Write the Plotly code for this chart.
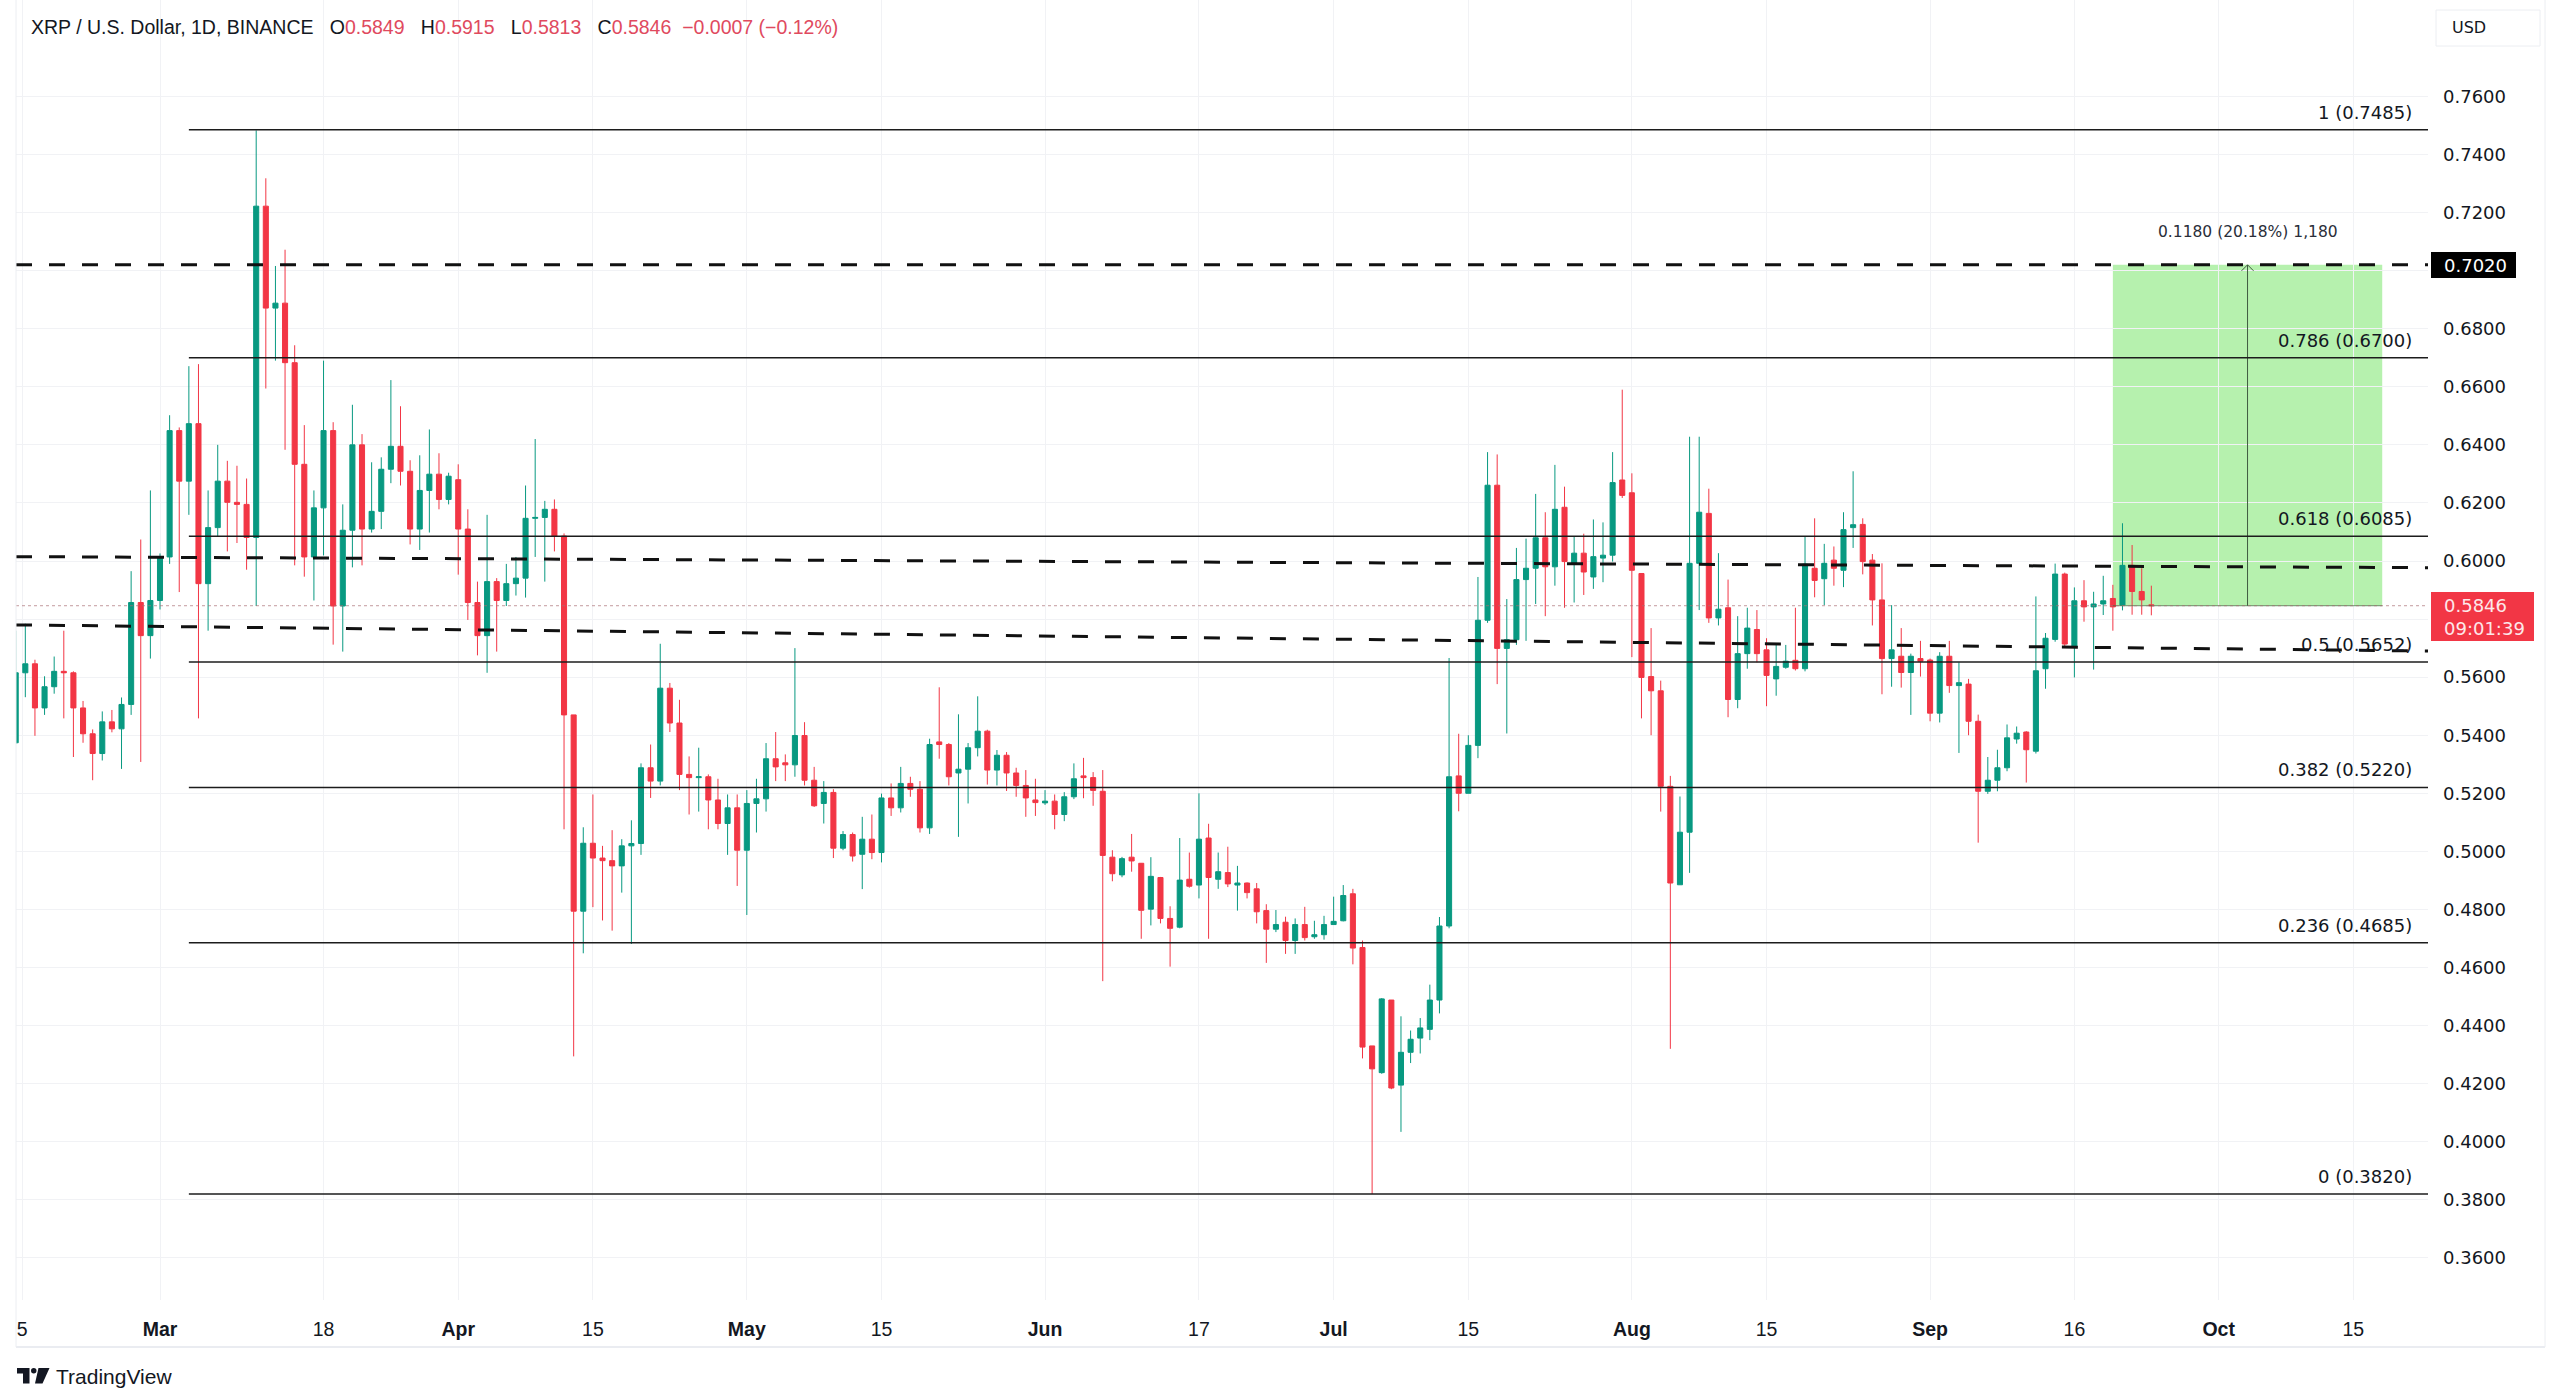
import pandas as pd
import plotly.graph_objects as go

# ---------------- data (daily candles, XRP/USD, from 2024-02-15) ----------------
start_date = "2024-02-15"
open_ = [0.5374, 0.5615, 0.5646, 0.5494, 0.5567, 0.5620, 0.5615, 0.5494, 0.5405, 0.5337,
         0.5446, 0.5422, 0.5506, 0.5857, 0.5743, 0.5864, 0.6014, 0.6449, 0.6275, 0.6473,
         0.5922, 0.6115, 0.6275, 0.6202, 0.6195, 0.6081, 0.7222, 0.6871, 0.6888, 0.6683,
         0.6333, 0.6014, 0.6183, 0.6449, 0.5845, 0.6106, 0.6400, 0.6110, 0.6171, 0.6316,
         0.6395, 0.6309, 0.6110, 0.6243, 0.6299, 0.6212, 0.6280, 0.6110, 0.5857, 0.5743,
         0.5929, 0.5864, 0.5922, 0.5941, 0.6147, 0.6150, 0.6178, 0.6086, 0.5470, 0.4794,
         0.5028, 0.4977, 0.4968, 0.4950, 0.5019, 0.5027, 0.5288, 0.5242, 0.5562, 0.5442,
         0.5265, 0.5254, 0.5257, 0.5177, 0.5096, 0.5150, 0.5004, 0.5165, 0.5181, 0.5319,
         0.5305, 0.5298, 0.5399, 0.5245, 0.5165, 0.5203, 0.5011, 0.5058, 0.4990, 0.5042,
         0.4996, 0.5184, 0.5150, 0.5234, 0.5214, 0.5081, 0.5377, 0.5368, 0.5270, 0.5283,
         0.5357, 0.5414, 0.5280, 0.5331, 0.5270, 0.5227, 0.5177, 0.5167, 0.5173, 0.5127,
         0.5188, 0.5260, 0.5254, 0.5207, 0.4980, 0.4919, 0.4980, 0.4959, 0.4801, 0.4910,
         0.4769, 0.4739, 0.4904, 0.4884, 0.5046, 0.4904, 0.4927, 0.4884, 0.4891, 0.4871,
         0.4796, 0.4732, 0.4756, 0.4693, 0.4748, 0.4706, 0.4713, 0.4748, 0.4761, 0.4854,
         0.4669, 0.4330, 0.4238, 0.4488, 0.4195, 0.4308, 0.4357, 0.4387, 0.4488, 0.4743,
         0.5260, 0.5200, 0.5365, 0.5796, 0.6261, 0.5699, 0.5729, 0.5936, 0.5975, 0.6080,
         0.5980, 0.6185, 0.5992, 0.6027, 0.5945, 0.6010, 0.6020, 0.6279, 0.6235, 0.5957,
         0.5602, 0.5553, 0.5224, 0.4885, 0.5066, 0.5992, 0.6164, 0.5804, 0.5839, 0.5523,
         0.5681, 0.5764, 0.5694, 0.5594, 0.5634, 0.5658, 0.5629, 0.5975, 0.5939, 0.6003,
         0.5968, 0.6115, 0.6126, 0.6003, 0.5866, 0.5664, 0.5672, 0.5616, 0.5664, 0.5659,
         0.5476, 0.5672, 0.5571, 0.5576, 0.5448, 0.5207, 0.5245, 0.5288, 0.5387, 0.5411,
         0.5345, 0.5629, 0.5730, 0.5955, 0.5703, 0.5863, 0.5842, 0.5852, 0.5871, 0.5848,
         0.5985, 0.5895, 0.5849]
high_ = [0.5760, 0.5784, 0.5660, 0.5603, 0.5671, 0.5760, 0.5620, 0.5518, 0.5420, 0.5482,
         0.5487, 0.5530, 0.5965, 0.6074, 0.6243, 0.6026, 0.6502, 0.6460, 0.6671, 0.6678,
         0.6243, 0.6400, 0.6345, 0.6328, 0.6284, 0.7483, 0.7318, 0.7016, 0.7072, 0.6743,
         0.6468, 0.6243, 0.6690, 0.6478, 0.6195, 0.6538, 0.6437, 0.6340, 0.6357, 0.6623,
         0.6533, 0.6347, 0.6364, 0.6453, 0.6371, 0.6304, 0.6333, 0.6178, 0.5929, 0.6159,
         0.5941, 0.5990, 0.6014, 0.6260, 0.6420, 0.6207, 0.6212, 0.6095, 0.5470, 0.5083,
         0.5196, 0.5019, 0.5073, 0.5042, 0.5107, 0.5303, 0.5368, 0.5715, 0.5580, 0.5522,
         0.5327, 0.5357, 0.5265, 0.5250, 0.5196, 0.5196, 0.5211, 0.5250, 0.5373, 0.5411,
         0.5334, 0.5700, 0.5445, 0.5291, 0.5242, 0.5214, 0.5070, 0.5065, 0.5119, 0.5127,
         0.5199, 0.5234, 0.5291, 0.5257, 0.5242, 0.5388, 0.5565, 0.5373, 0.5472, 0.5373,
         0.5534, 0.5419, 0.5349, 0.5342, 0.5288, 0.5280, 0.5250, 0.5211, 0.5196, 0.5204,
         0.5303, 0.5322, 0.5273, 0.5280, 0.5004, 0.4981, 0.5060, 0.4960, 0.4980, 0.4912,
         0.4811, 0.5046, 0.4996, 0.5200, 0.5095, 0.4996, 0.5016, 0.4950, 0.4893, 0.4891,
         0.4818, 0.4798, 0.4775, 0.4769, 0.4809, 0.4761, 0.4778, 0.4844, 0.4884, 0.4871,
         0.4693, 0.4330, 0.4495, 0.4488, 0.4432, 0.4383, 0.4426, 0.4541, 0.4774, 0.5666,
         0.5405, 0.5400, 0.5945, 0.6375, 0.6367, 0.5869, 0.6045, 0.6077, 0.6231, 0.6168,
         0.6331, 0.6256, 0.6085, 0.6094, 0.6143, 0.6133, 0.6375, 0.6590, 0.6302, 0.5957,
         0.5769, 0.5588, 0.5260, 0.5189, 0.6428, 0.6428, 0.6249, 0.6027, 0.5936, 0.5810,
         0.5839, 0.5831, 0.5734, 0.5711, 0.5711, 0.5839, 0.6085, 0.6147, 0.6059, 0.6050,
         0.6168, 0.6309, 0.6147, 0.6024, 0.5992, 0.5848, 0.5769, 0.5681, 0.5725, 0.5664,
         0.5686, 0.5725, 0.5651, 0.5594, 0.5471, 0.5325, 0.5350, 0.5437, 0.5430, 0.5414,
         0.5878, 0.5752, 0.5991, 0.5960, 0.5909, 0.5934, 0.5894, 0.5949, 0.5918, 0.6130,
         0.6055, 0.5975, 0.5915]
low_ = [0.5370, 0.5531, 0.5398, 0.5470, 0.5543, 0.5458, 0.5325, 0.5374, 0.5245, 0.5313,
        0.5410, 0.5284, 0.5470, 0.5308, 0.5664, 0.5833, 0.5990, 0.5893, 0.6159, 0.5458,
        0.5760, 0.6086, 0.6033, 0.6062, 0.5970, 0.5845, 0.6594, 0.6690, 0.6383, 0.5985,
        0.5946, 0.5864, 0.6019, 0.5712, 0.5688, 0.5978, 0.5985, 0.6098, 0.6110, 0.6268,
        0.6260, 0.6057, 0.6038, 0.6098, 0.6178, 0.6195, 0.5953, 0.5797, 0.5675, 0.5615,
        0.5688, 0.5845, 0.5881, 0.5874, 0.6014, 0.5929, 0.6033, 0.5076, 0.4294, 0.4649,
        0.4808, 0.4762, 0.4727, 0.4858, 0.4681, 0.4988, 0.5184, 0.5227, 0.5411, 0.5211,
        0.5127, 0.5137, 0.5076, 0.5076, 0.4988, 0.4881, 0.4781, 0.5065, 0.5137, 0.5242,
        0.5242, 0.5257, 0.5227, 0.5153, 0.5096, 0.4977, 0.5004, 0.4965, 0.4870, 0.4973,
        0.4962, 0.5122, 0.5134, 0.5188, 0.5065, 0.5060, 0.5319, 0.5227, 0.5050, 0.5165,
        0.5327, 0.5230, 0.5227, 0.5208, 0.5188, 0.5119, 0.5122, 0.5160, 0.5076, 0.5104,
        0.5180, 0.5183, 0.5157, 0.4553, 0.4897, 0.4911, 0.4930, 0.4699, 0.4745, 0.4752,
        0.4603, 0.4735, 0.4875, 0.4838, 0.4699, 0.4871, 0.4877, 0.4796, 0.4838, 0.4752,
        0.4616, 0.4722, 0.4647, 0.4647, 0.4693, 0.4699, 0.4696, 0.4748, 0.4759, 0.4611,
        0.4287, 0.3820, 0.4234, 0.4181, 0.4034, 0.4271, 0.4304, 0.4350, 0.4442, 0.4735,
        0.5138, 0.5200, 0.5321, 0.5787, 0.5576, 0.5406, 0.5711, 0.5725, 0.5852, 0.5810,
        0.5915, 0.5839, 0.5857, 0.5883, 0.5904, 0.5927, 0.5998, 0.6217, 0.5669, 0.5458,
        0.5400, 0.5137, 0.4320, 0.4885, 0.4926, 0.5831, 0.5787, 0.5778, 0.5462, 0.5493,
        0.5629, 0.5651, 0.5500, 0.5536, 0.5629, 0.5623, 0.5620, 0.5875, 0.5848, 0.5915,
        0.5910, 0.6045, 0.5954, 0.5778, 0.5541, 0.5567, 0.5564, 0.5470, 0.5602, 0.5448,
        0.5444, 0.5546, 0.5339, 0.5400, 0.5030, 0.5198, 0.5207, 0.5276, 0.5371, 0.5237,
        0.5337, 0.5560, 0.5722, 0.5706, 0.5599, 0.5791, 0.5626, 0.5814, 0.5760, 0.5830,
        0.5815, 0.5815, 0.5813]
close_ = [0.5615, 0.5646, 0.5494, 0.5567, 0.5620, 0.5615, 0.5494, 0.5405, 0.5337, 0.5446,
          0.5422, 0.5506, 0.5857, 0.5743, 0.5864, 0.6014, 0.6449, 0.6275, 0.6473, 0.5922,
          0.6115, 0.6275, 0.6202, 0.6195, 0.6081, 0.7222, 0.6871, 0.6888, 0.6683, 0.6333,
          0.6014, 0.6183, 0.6449, 0.5845, 0.6106, 0.6400, 0.6110, 0.6171, 0.6316, 0.6395,
          0.6309, 0.6110, 0.6243, 0.6299, 0.6212, 0.6292, 0.6110, 0.5857, 0.5743, 0.5929,
          0.5864, 0.5922, 0.5941, 0.6147, 0.6150, 0.6178, 0.6086, 0.5470, 0.4794, 0.5028,
          0.4977, 0.4968, 0.4950, 0.5019, 0.5027, 0.5288, 0.5242, 0.5562, 0.5442, 0.5265,
          0.5254, 0.5257, 0.5177, 0.5096, 0.5150, 0.5004, 0.5165, 0.5181, 0.5319, 0.5291,
          0.5298, 0.5399, 0.5245, 0.5157, 0.5203, 0.5011, 0.5058, 0.4984, 0.5042, 0.4996,
          0.5184, 0.5150, 0.5234, 0.5214, 0.5081, 0.5368, 0.5368, 0.5257, 0.5283, 0.5357,
          0.5414, 0.5280, 0.5331, 0.5270, 0.5227, 0.5184, 0.5168, 0.5173, 0.5127, 0.5188,
          0.5250, 0.5254, 0.5210, 0.4986, 0.4923, 0.4975, 0.4967, 0.4797, 0.4914, 0.4769,
          0.4735, 0.4901, 0.4880, 0.5042, 0.4910, 0.4930, 0.4888, 0.4891, 0.4858, 0.4792,
          0.4732, 0.4748, 0.4693, 0.4748, 0.4703, 0.4713, 0.4748, 0.4759, 0.4848, 0.4667,
          0.4326, 0.4251, 0.4492, 0.4185, 0.4308, 0.4353, 0.4392, 0.4488, 0.4743, 0.5257,
          0.5200, 0.5365, 0.5796, 0.6261, 0.5699, 0.5729, 0.5936, 0.5975, 0.6080, 0.5980,
          0.6178, 0.5998, 0.6027, 0.5962, 0.6015, 0.6020, 0.6270, 0.6226, 0.5968, 0.5599,
          0.5553, 0.5224, 0.4891, 0.5066, 0.5992, 0.6168, 0.5804, 0.5834, 0.5523, 0.5681,
          0.5769, 0.5681, 0.5606, 0.5637, 0.5655, 0.5629, 0.5989, 0.5933, 0.5992, 0.5975,
          0.6108, 0.6125, 0.5998, 0.5866, 0.5664, 0.5694, 0.5616, 0.5672, 0.5655, 0.5476,
          0.5672, 0.5571, 0.5581, 0.5448, 0.5207, 0.5245, 0.5288, 0.5391, 0.5407, 0.5350,
          0.5622, 0.5734, 0.5955, 0.5714, 0.5863, 0.5842, 0.5852, 0.5863, 0.5842, 0.5985,
          0.5895, 0.5866, 0.5846]

fib_ratios = ["1", "0.786", "0.618", "0.5", "0.382", "0.236", "0"]
fib_levels = [0.7485, 0.6700, 0.6085, 0.5652, 0.5220, 0.4685, 0.3820]
fib_start = "2024-03-04"

target_level = 0.7020
last_price = 0.5846
trend_upper = [0.6015, 0.5977]   # sloped dashed line: left value, right value
trend_lower = [0.5780, 0.5690]
box_start, box_days = "2024-09-20", 28.0
measure_text = "0.1180 (20.18%) 1,180"
countdown = "09:01:39"
change_text = "−0.0007 (−0.12%)"

ytick_vals = [round(0.36 + 0.02 * i, 2) for i in range(21)]
xtick_dates = ["2024-02-15 16:00", "2024-03-01", "2024-03-18", "2024-04-01", "2024-04-15", "2024-05-01",
               "2024-05-15", "2024-06-01", "2024-06-17", "2024-07-01", "2024-07-15", "2024-08-01",
               "2024-08-15", "2024-09-01", "2024-09-16", "2024-10-01", "2024-10-15"]
xtick_text = ["5", "<b>Mar</b>", "18", "<b>Apr</b>", "15", "<b>May</b>", "15", "<b>Jun</b>", "17",
              "<b>Jul</b>", "15", "<b>Aug</b>", "15", "<b>Sep</b>", "16", "<b>Oct</b>", "15"]

# ---------------- styling / geometry ----------------
W, H = 2560, 1399
PL, PR, PT, PB = 16, 2428, 0, 1300
GREEN, RED = "#089981", "#f23645"
TXT = "#131722"


def px(X):
    return (X - PL) / (PR - PL)


def py(Y):
    return (PB - Y) / (PB - PT)


dates = pd.date_range(start_date, periods=len(open_), freq="D")
base = pd.Timestamp("2024-03-01")
x_lo = base + pd.Timedelta(days=(PL - 160) / 9.62)
x_hi = base + pd.Timedelta(days=(PR - 160) / 9.62)
y_lo, y_hi = 0.3455, 0.7932

fig = go.Figure()
fig.add_trace(go.Candlestick(
    x=dates, open=open_, high=high_, low=low_, close=close_,
    increasing=dict(line=dict(color=GREEN, width=1), fillcolor=GREEN),
    decreasing=dict(line=dict(color=RED, width=1), fillcolor=RED),
    whiskerwidth=0, showlegend=False, hoverinfo="skip"))

shapes = []
annos = []

# green projection box
bx0 = pd.Timestamp(box_start)
bx1 = bx0 + pd.Timedelta(days=box_days)
bxm = bx0 + pd.Timedelta(days=box_days / 2)
shapes.append(dict(type="rect", xref="x", yref="y", x0=bx0, x1=bx1, y0=last_price, y1=target_level,
                   fillcolor="#b6f1ae", line=dict(width=0), layer="below"))
shapes.append(dict(type="line", xref="x", yref="y", x0=bx0, x1=bx1, y0=last_price, y1=last_price,
                   line=dict(color="rgba(70,110,70,0.75)", width=1)))
shapes.append(dict(type="line", xref="x", yref="y", x0=bxm, x1=bxm, y0=last_price, y1=target_level,
                   line=dict(color="#3f5a40", width=1)))

# current price dotted line
shapes.append(dict(type="line", xref="paper", yref="y", x0=0, x1=1, y0=last_price, y1=last_price,
                   line=dict(color="rgba(170,110,115,0.7)", width=1, dash="dot")))

# fibonacci levels
for r, lv in zip(fib_ratios, fib_levels):
    shapes.append(dict(type="line", xref="x", yref="y", x0=fib_start, x1=x_hi, y0=lv, y1=lv,
                       line=dict(color="#1c1c1c", width=1.5)))
    annos.append(dict(xref="paper", yref="y", x=px(2414), y=lv, xanchor="right", yanchor="bottom",
                      yshift=5, showarrow=False, text=f"{r} ({lv:.4f})",
                      font=dict(family="DejaVu Sans", size=18, color=TXT)))

# dashed lines
dash = "16px,17px"
shapes.append(dict(type="line", xref="paper", yref="y", x0=0, x1=1, y0=target_level, y1=target_level,
                   line=dict(color="#111111", width=3, dash=dash)))
shapes.append(dict(type="line", xref="paper", yref="y", x0=0, x1=1, y0=trend_upper[0], y1=trend_upper[1],
                   line=dict(color="#111111", width=3, dash=dash)))
shapes.append(dict(type="line", xref="paper", yref="y", x0=0, x1=1, y0=trend_lower[0], y1=trend_lower[1],
                   line=dict(color="#111111", width=3, dash=dash)))

# arrow head on measuring line
xm_px = 160 + 9.62 * ((bxm - base) / pd.Timedelta(days=1))
ah = 6 / 2904
shapes.append(dict(type="path", xref="paper", yref="y",
                   path=f"M {px(xm_px - 6)},{target_level - ah} L {px(xm_px)},{target_level} L {px(xm_px + 6)},{target_level - ah}",
                   line=dict(color="#3f5a40", width=1)))
annos.append(dict(xref="x", yref="y", x=bxm, y=0.7134, xanchor="center", yanchor="middle",
                  showarrow=False, text=measure_text,
                  font=dict(family="DejaVu Sans", size=15.5, color="#2a2e39")))

# price tags on axis
shapes.append(dict(type="rect", xref="paper", yref="paper", x0=px(2431), x1=px(2516),
                   y0=py(278), y1=py(252), fillcolor="#000000", line=dict(width=0)))
annos.append(dict(xref="paper", yref="paper", x=px(2442), y=py(265), xanchor="left", yanchor="middle",
                  showarrow=False, text=f"{target_level:.4f}",
                  font=dict(family="DejaVu Sans", size=18, color="#ffffff")))
shapes.append(dict(type="rect", xref="paper", yref="paper", x0=px(2431), x1=px(2534),
                   y0=py(641), y1=py(592), fillcolor="#f23645", line=dict(width=0)))
annos.append(dict(xref="paper", yref="paper", x=px(2442), y=py(605), xanchor="left", yanchor="middle",
                  showarrow=False, text=f"{last_price:.4f}",
                  font=dict(family="DejaVu Sans", size=18, color="#fde8ea")))
annos.append(dict(xref="paper", yref="paper", x=px(2442), y=py(628), xanchor="left", yanchor="middle",
                  showarrow=False, text=countdown,
                  font=dict(family="DejaVu Sans", size=18, color="#fde8ea")))

# USD label
shapes.append(dict(type="rect", xref="paper", yref="paper", x0=px(2436), x1=px(2540),
                   y0=py(46), y1=py(10), fillcolor="rgba(0,0,0,0)", line=dict(color="#eceef2", width=1)))
annos.append(dict(xref="paper", yref="paper", x=px(2469), y=py(28), xanchor="center", yanchor="middle",
                  showarrow=False, text="USD",
                  font=dict(family="DejaVu Sans", size=16, color=TXT)))

# title / legend line
rc = "#e04a5e"
title = ("XRP / U.S. Dollar, 1D, BINANCE&nbsp;&nbsp;&nbsp;"
         f"O<span style='color:{rc}'>{open_[-1]:.4f}</span>&nbsp;&nbsp;&nbsp;"
         f"H<span style='color:{rc}'>{high_[-1]:.4f}</span>&nbsp;&nbsp;&nbsp;"
         f"L<span style='color:{rc}'>{low_[-1]:.4f}</span>&nbsp;&nbsp;&nbsp;"
         f"C<span style='color:{rc}'>{close_[-1]:.4f}</span>&nbsp;&nbsp;"
         f"<span style='color:{rc}'>{change_text}</span>")
annos.append(dict(xref="paper", yref="paper", x=px(29), y=py(27), xanchor="left", yanchor="middle",
                  showarrow=False, text=title,
                  font=dict(family="Liberation Sans", size=19.5, color=TXT)))

# frame & separator
shapes.append(dict(type="line", xref="paper", yref="paper", x0=px(16), x1=px(2545), y0=py(1347), y1=py(1347),
                   line=dict(color="#e3e6ec", width=1.5)))
shapes.append(dict(type="line", xref="paper", yref="paper", x0=px(2545), x1=px(2545), y0=py(0), y1=py(1347),
                   line=dict(color="#eceef2", width=1)))
shapes.append(dict(type="line", xref="paper", yref="paper", x0=px(16), x1=px(16), y0=py(0), y1=py(1347),
                   line=dict(color="#eceef2", width=1)))

# TradingView logo + text
shapes.append(dict(type="path", xref="paper", yref="paper", fillcolor="#131722", line=dict(width=0),
                   path=(f"M {px(17)},{py(1368)} L {px(29.5)},{py(1368)} L {px(29.5)},{py(1383.5)} "
                         f"L {px(23)},{py(1383.5)} L {px(23)},{py(1373.5)} L {px(17)},{py(1373.5)} Z")))
shapes.append(dict(type="circle", xref="paper", yref="paper", fillcolor="#131722", line=dict(width=0),
                   x0=px(31), x1=px(36.5), y0=py(1373.5), y1=py(1368)))
shapes.append(dict(type="path", xref="paper", yref="paper", fillcolor="#131722", line=dict(width=0),
                   path=(f"M {px(38.5)},{py(1368)} L {px(49.5)},{py(1368)} L {px(42.5)},{py(1383.5)} "
                         f"L {px(35)},{py(1383.5)} Z")))
annos.append(dict(xref="paper", yref="paper", x=px(54), y=py(1376), xanchor="left", yanchor="middle",
                  showarrow=False, text="TradingView",
                  font=dict(family="Liberation Sans", size=21, color=TXT)))

ytick_text = ["" if v in (0.58, 0.70) else f"{v:.4f}" for v in ytick_vals]

fig.update_layout(
    width=W, height=H,
    margin=dict(l=PL, r=W - PR, t=PT, b=H - PB, pad=0),
    paper_bgcolor="#ffffff", plot_bgcolor="#ffffff",
    shapes=shapes, annotations=annos,
    hovermode=False, showlegend=False, boxgap=0.25,
    xaxis=dict(type="date", range=[x_lo, x_hi], rangeslider=dict(visible=False),
               tickmode="array", tickvals=xtick_dates, ticktext=xtick_text,
               showgrid=True, gridcolor="#f1f2f5", gridwidth=1, zeroline=False, showline=False,
               ticks="", ticklabelstandoff=15, automargin=False,
               tickfont=dict(family="Liberation Sans", size=19.5, color=TXT)),
    yaxis=dict(side="right", range=[y_lo, y_hi], tickmode="array", tickvals=ytick_vals,
               ticktext=ytick_text, showgrid=True, gridcolor="#f1f2f5", gridwidth=1,
               zeroline=False, showline=False, ticks="", ticklabelstandoff=14, automargin=False,
               tickfont=dict(family="DejaVu Sans", size=18, color=TXT)),
)

fig.write_html("out.html")
